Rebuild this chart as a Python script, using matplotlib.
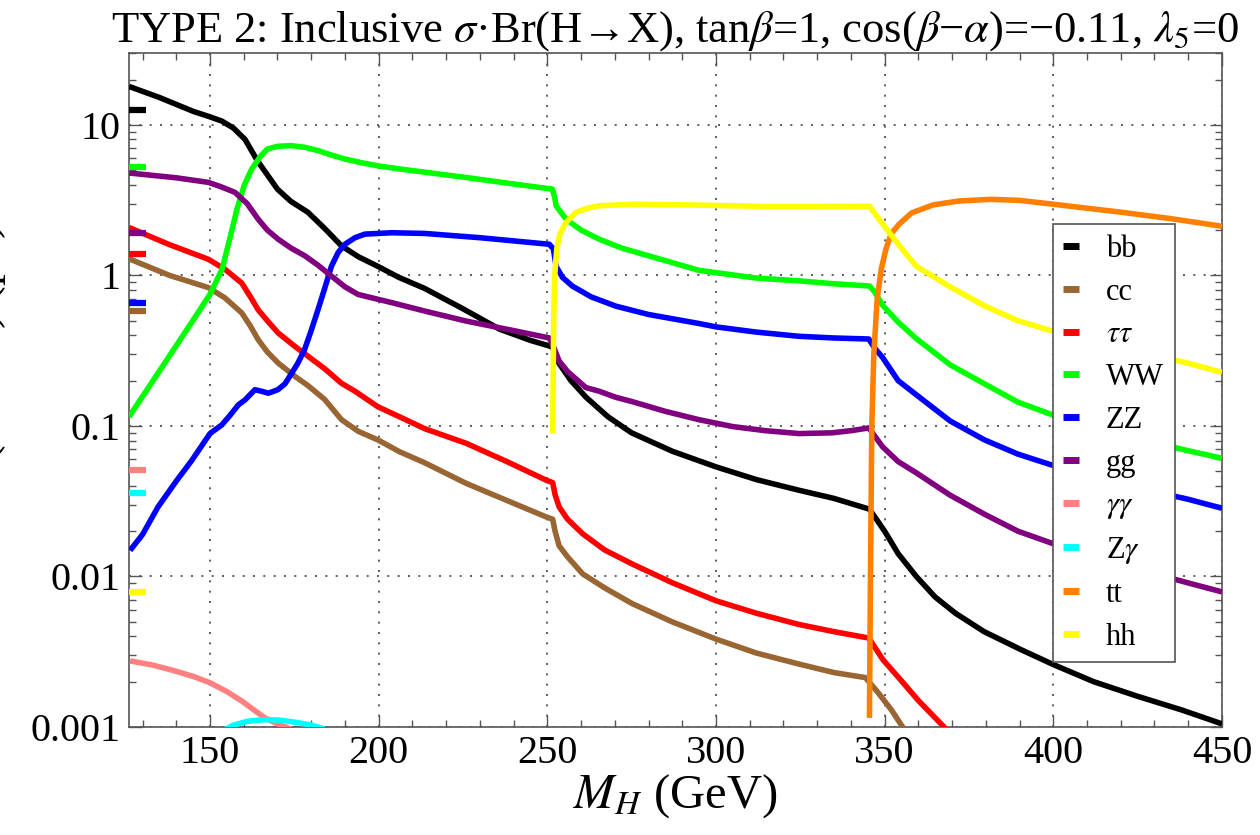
import matplotlib
matplotlib.use("Agg")
import matplotlib.pyplot as plt
from matplotlib.lines import Line2D
from matplotlib.ticker import LogLocator, FixedLocator, NullFormatter

plt.rcParams['font.family'] = ['Liberation Serif', 'DejaVu Serif']
plt.rcParams['mathtext.fontset'] = 'stix'

# ---------------- data ----------------
bb_x = [126, 135, 145, 150, 153.5, 157, 160.4, 164, 170, 174, 179, 184, 189, 194, 199.7, 206, 213.6, 225, 235.8,
        245, 251.5, 253.5, 257, 261.5, 268, 275, 287, 300, 312, 324.6, 335, 345.5, 350, 354, 359.4, 365, 371,
        379.5, 390, 400, 412, 425, 438, 450]
bb_y = [18, 15.2, 12.3, 11.3, 10.6, 9.5, 8.0, 5.8, 3.74, 3.1, 2.63, 2.05, 1.57, 1.33, 1.15, 0.97, 0.82, 0.6, 0.44,
        0.37, 0.335, 0.26, 0.2, 0.155, 0.115, 0.09, 0.068, 0.0535, 0.044, 0.0374, 0.033, 0.028, 0.02, 0.0142,
        0.01, 0.0073, 0.0057, 0.0043, 0.0033, 0.0026, 0.002, 0.0016, 0.0013, 0.00105]

cc_x = [126, 138, 149.5, 154.4, 159.4, 162, 164.3, 167, 170.2, 175, 179.1, 184, 189, 194, 199.8, 206.2, 213.6, 226,
        238, 249.6, 251.6, 252.3, 253.5, 256, 260.5, 267, 275.2, 287, 300, 312, 324.6, 335, 344.3, 348, 352, 356]
cc_y = [1.29, 1.0, 0.83, 0.71, 0.564, 0.46, 0.374, 0.31, 0.262, 0.215, 0.185, 0.15, 0.11, 0.092, 0.0807, 0.0674,
        0.057, 0.0415, 0.032, 0.0249, 0.024, 0.02, 0.016, 0.0135, 0.0104, 0.0084, 0.0066, 0.005, 0.00384, 0.0031,
        0.00262, 0.0023, 0.00213, 0.0017, 0.0013, 0.00095]

tau_x = [126, 138, 149.5, 154.4, 159.4, 162, 164.3, 167, 170.2, 175, 179.1, 184, 189, 193, 199.8, 206.2, 213.6,
         226, 238, 249.6, 251.6, 252.3, 253.5, 256, 260.5, 267, 275.2, 287, 300, 312, 324.6, 335, 345.3, 349.5,
         354.4, 360, 369]
tau_y = [2.08, 1.6, 1.28, 1.1, 0.89, 0.72, 0.59, 0.5, 0.415, 0.34, 0.29, 0.24, 0.192, 0.17, 0.134, 0.115, 0.096,
         0.0766, 0.058, 0.0437, 0.042, 0.035, 0.029, 0.024, 0.0192, 0.015, 0.0121, 0.0091, 0.0069, 0.0057, 0.0048,
         0.0043, 0.0039, 0.0028, 0.0021, 0.0015, 0.00093]

ww_x = [126, 137, 147, 150, 153.6, 156, 158, 160.2, 162.4, 165, 167, 170, 174, 178, 182, 186, 190, 195, 199.7, 206,
        213.6, 225, 240, 251.5, 252.2, 252.6, 255.6, 260, 265.4, 272, 280, 295, 312, 324.6, 335, 345.5, 347, 349.4,
        354, 359.4, 369.4, 379.5, 389.5, 400, 420, 439.7, 450]
ww_y = [0.115, 0.27, 0.59, 0.75, 1.1, 1.8, 2.75, 4.0, 5.1, 6.2, 6.9, 7.2, 7.28, 7.1, 6.75, 6.3, 5.93, 5.6, 5.35, 5.1,
        4.85, 4.5, 4.05, 3.74, 3.3, 2.9, 2.36, 2.0, 1.74, 1.52, 1.35, 1.08, 0.96, 0.92, 0.88, 0.85, 0.78, 0.633,
        0.49, 0.38, 0.255, 0.191, 0.144, 0.118, 0.088, 0.0687, 0.061]

zz_x = [126.3, 130, 134.6, 140, 144.6, 150, 153.5, 156, 158.4, 160.4, 163.3, 165.3, 167.3, 170.1, 172.2, 174, 176,
        178, 180, 182, 184, 186, 188, 190, 193, 195.9, 203.8, 213.6, 230, 250.6, 251.8, 252.6, 254.5, 257.4, 263,
        270.3, 280, 295, 300, 312, 324.6, 335, 345.3, 347, 349.4, 354, 359.4, 369.4, 379.5, 389.5, 400, 420,
        439.7, 450]
zz_y = [0.0149, 0.019, 0.029, 0.043, 0.059, 0.089, 0.1016, 0.118, 0.138, 0.149, 0.174, 0.17, 0.165, 0.174, 0.19,
        0.22, 0.26, 0.32, 0.43, 0.59, 0.82, 1.15, 1.42, 1.61, 1.78, 1.88, 1.92, 1.9, 1.78, 1.61, 1.5, 1.15, 0.97,
        0.85, 0.72, 0.625, 0.55, 0.479, 0.455, 0.42, 0.394, 0.384, 0.378, 0.33, 0.285, 0.2, 0.161, 0.108, 0.081,
        0.065, 0.0546, 0.041, 0.0327, 0.0284]

gg_x = [126, 140, 149.5, 153, 157.4, 161, 164.3, 167, 170.2, 174, 178.1, 182, 186, 190, 193.9, 203.8, 213.6, 226,
        240, 250.6, 252, 253.5, 256, 261.4, 265.4, 270.3, 275.2, 285, 295, 305, 314.7, 324.6, 334.4, 340, 345.3,
        349.4, 354, 359.4, 369.4, 379.5, 389.5, 400, 420, 439.7, 450]
gg_y = [4.79, 4.45, 4.15, 3.9, 3.56, 3.0, 2.36, 2.0, 1.74, 1.52, 1.35, 1.17, 0.99, 0.84, 0.747, 0.66, 0.58, 0.497,
        0.43, 0.384, 0.33, 0.27, 0.23, 0.18, 0.17, 0.155, 0.145, 0.125, 0.11, 0.099, 0.093, 0.089, 0.09, 0.093,
        0.097, 0.0727, 0.058, 0.0488, 0.0347, 0.026, 0.02, 0.0165, 0.012, 0.0091, 0.0079]

aa_x = [126.3, 133, 139.6, 145, 150, 155, 159.4, 163, 166.3, 170, 173.5, 175]
aa_y = [0.00275, 0.00258, 0.00236, 0.00217, 0.00197, 0.00172, 0.00149, 0.0013, 0.00115, 0.00105, 0.00098, 0.0009]

za_x = [154, 157, 161, 166, 171, 176, 180, 184]
za_y = [0.00095, 0.00103, 0.00109, 0.00112, 0.00111, 0.00107, 0.00103, 0.00097]

tt_x = [345.5, 345.8, 346.2, 346.8, 347.8, 349, 350.4, 352, 354.4, 358, 364.4, 372, 381.5, 390, 400, 420, 435, 450]
tt_y = [0.00115, 0.01, 0.1, 0.3, 0.7, 1.1, 1.5, 1.9, 2.2, 2.6, 2.94, 3.12, 3.2, 3.15, 2.97, 2.63, 2.38, 2.12]

hh_x = [251.6, 251.9, 252.2, 252.8, 253.8, 255.5, 258.5, 262, 265.4, 275, 295, 314.7, 330, 345.5, 349.4, 354.4,
        359.4, 369.4, 379.5, 389.5, 400, 420, 439.7, 450]
hh_y = [0.089, 0.5, 1.0, 1.5, 1.9, 2.25, 2.62, 2.8, 2.9, 2.97, 2.93, 2.87, 2.87, 2.88, 2.2, 1.57, 1.15, 0.84, 0.63,
        0.5, 0.425, 0.33, 0.262, 0.227]

# SM Higgs (125 GeV) reference values, drawn as short marks at the left edge
sm_labels = ['bb', 'cc', 'tautau', 'WW', 'ZZ', 'gg', 'aa', 'Za', 'hh']
sm_values = [12.5, 0.578, 1.38, 5.22, 0.657, 1.9, 0.0506, 0.0361, 0.0079]

series = [
    ('bb', bb_x, bb_y, '#000000'),
    ('cc', cc_x, cc_y, '#996633'),
    (r'$\tau\tau$', tau_x, tau_y, '#ff0000'),
    ('WW', ww_x, ww_y, '#00ff00'),
    ('ZZ', zz_x, zz_y, '#0000ff'),
    ('gg', gg_x, gg_y, '#800080'),
    (r'$\gamma\gamma$', aa_x, aa_y, '#ff8080'),
    (r'Z$\gamma$', za_x, za_y, '#00ffff'),
    ('tt', tt_x, tt_y, '#ff8000'),
    ('hh', hh_x, hh_y, '#ffff00'),
]
sm_colors = {'bb': '#000000', 'cc': '#996633', 'tautau': '#ff0000', 'WW': '#00ff00', 'ZZ': '#0000ff',
             'gg': '#800080', 'aa': '#ff8080', 'Za': '#00ffff', 'hh': '#ffff00'}

# ---------------- figure ----------------
fig = plt.figure(figsize=(12.6, 8.35), dpi=100)
ax = fig.add_axes([0.1024, 0.1293, 0.8674, 0.8072])
ax.set_yscale('log')
ax.set_xlim(126, 450)
ax.set_ylim(0.001, 30)

for name, xs, ys, c in series:
    ax.plot(xs, ys, color=c, lw=4.0, solid_capstyle='butt', solid_joinstyle='round', zorder=3)

for lab, v in zip(sm_labels, sm_values):
    ax.plot([126, 131], [v, v], color=sm_colors[lab], lw=4.5, solid_capstyle='butt', zorder=4)

# ticks and grid
ax.xaxis.set_major_locator(FixedLocator([150, 200, 250, 300, 350, 400, 450]))
ax.xaxis.set_minor_locator(FixedLocator([x for x in range(130, 451, 10)]))
ax.yaxis.set_minor_locator(LogLocator(base=10, subs=range(2, 10), numticks=20))
ax.yaxis.set_minor_formatter(NullFormatter())
ax.set_yticks([0.001, 0.01, 0.1, 1, 10])
ax.set_yticklabels(['0.001', '0.01', '0.1', '1', '10'])
ax.grid(True, which='major', color='#444444', linestyle=(0, (1.2, 5)), lw=1.2)

ax.tick_params(which='both', direction='in', top=True, right=True, labelsize=29, color='#555555', pad=6)
ax.tick_params(which='major', length=9, width=1)
ax.tick_params(which='minor', length=5, width=1)
for s in ax.spines.values():
    s.set_color('#555555')
    s.set_linewidth(1.2)

ax.set_xlabel(r'$M_H$ (GeV)', fontsize=35, labelpad=0)
fig.text(0.0065, 0.533, r'$\sigma\cdot$Br(H→X) (pb)', rotation=90, ha='right', va='center', fontsize=34)

ax.set_title(r'TYPE 2: Inclusive $\sigma$·Br(H→X), tan$\beta$=1, cos($\beta$−$\alpha$)=−0.11, $\lambda_5$=0',
             fontsize=32, pad=4)

handles = [Line2D([0], [0], color=c, lw=5, solid_capstyle='butt') for _, _, _, c in series]
labels = [n for n, _, _, _ in series]
leg = ax.legend(handles, labels, loc='upper left', bbox_to_anchor=(0.845, 0.746), fontsize=22,
                frameon=True, fancybox=False, framealpha=1, edgecolor='#555555', handlelength=0.5,
                handletextpad=0.9, labelspacing=0.45, borderpad=0.35, borderaxespad=0)
leg.get_frame().set_linewidth(1.2)
leg.set_zorder(10)

fig.savefig('out.png', dpi=100)
